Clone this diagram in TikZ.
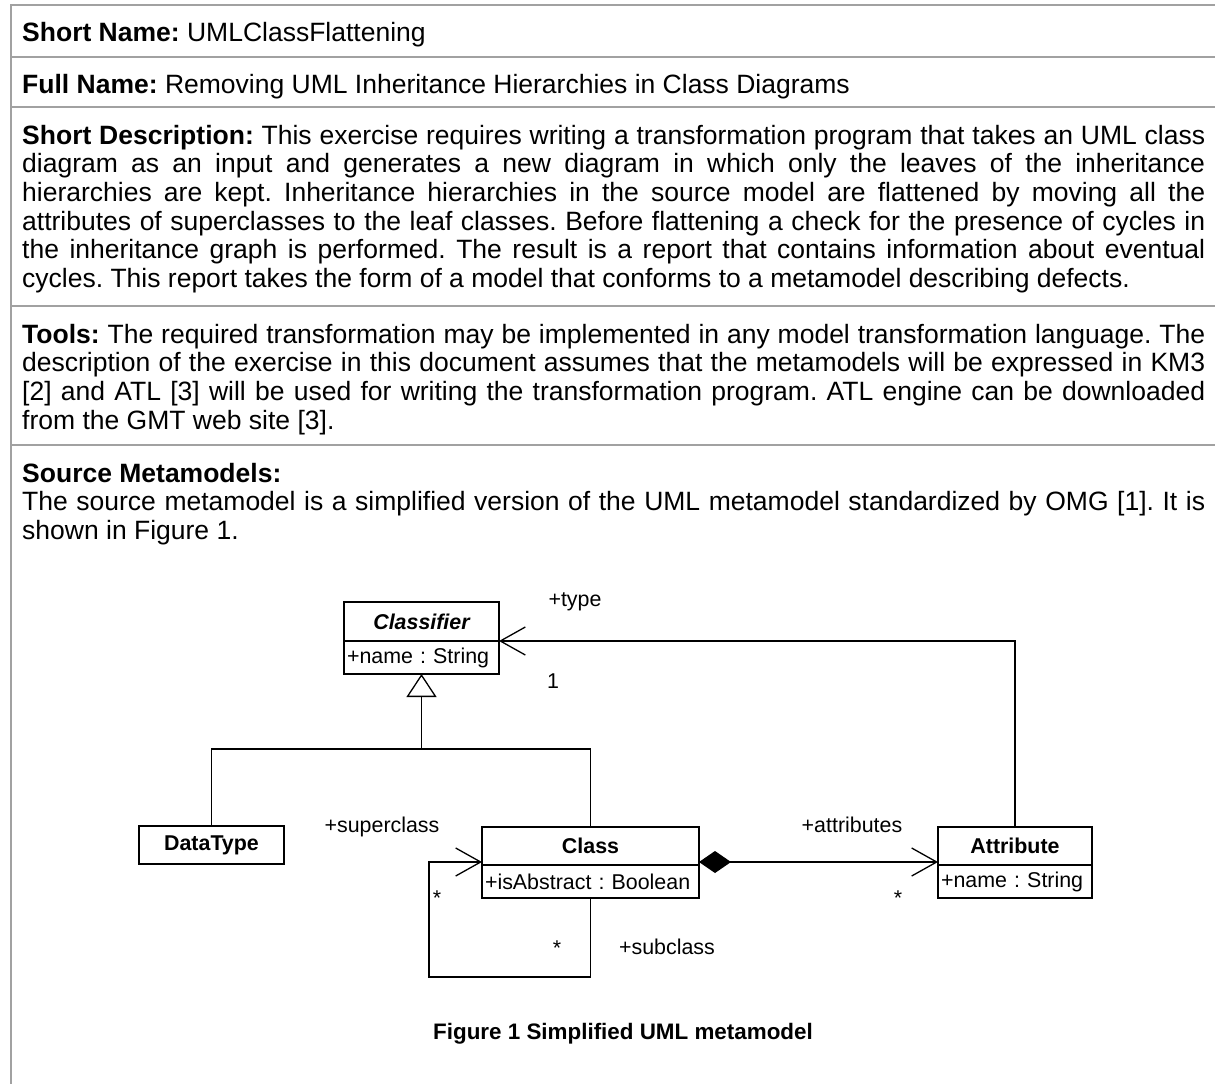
\documentclass[tikz,border=0pt]{standalone}
\usepackage{fontspec}
\setmainfont{Liberation Sans}
\usetikzlibrary{calc,positioning,arrows.meta}
\frenchspacing

\newcommand{\docfont}{\fontsize{26.5}{28.7}\selectfont}
\newcommand{\umlfont}{\fontsize{21.4}{24}\selectfont}
\newcommand{\fillline}[1]{\makebox[1183pt][s]{#1}}

\tikzset{
  rule/.style={draw=black!37, line width=2pt},
  txt/.style={anchor=base west, inner sep=0pt, font=\docfont},
  umlhead/.style={draw, line width=1.7pt, inner sep=0pt, outer sep=0pt,
    minimum height=38pt, font=\umlfont\bfseries},
  umlattr/.style={draw, line width=1.7pt, inner xsep=3pt, inner ysep=0pt,
    outer sep=0pt, minimum height=33pt, text width=#1, align=left, font=\umlfont},
  lbl/.style={anchor=base, inner sep=0pt, font=\umlfont},
  assoc/.style={draw, line width=1.3pt},
  barb/.style={-{Straight Barb[length=25pt, width=28pt]}},
}

\begin{document}
\begin{tikzpicture}[x=1pt, y=-1pt]
    \useasboundingbox (0,0) rectangle (1215,1084);
    \pgfmathsetmacro{\xleft}{22}
    \pgfmathsetmacro{\lskip}{28.7}
    % Draw table rules
    \draw[rule] (10.5,4) -- (10.5,1084);
    \foreach \y in {5,57,107,305.5,445} {
        \draw[rule] (10,\y) -- (1215,\y);
    }

    % Rows of text
    \node[txt] (shortname) at (\xleft,41) {\textbf{Short Name:} UMLClassFlattening};
    \node[txt] (fullname) at (\xleft,93) {\textbf{Full Name:} Removing UML Inheritance Hierarchies in Class Diagrams};
    \node[txt] (desc0) at (\xleft,144) {\fillline{\textbf{Short Description:} This exercise requires writing a transformation program that takes an UML class}};
    \foreach \t [count=\i] in {
        {diagram as an input and generates a new diagram in which only the leaves of the inheritance},
        {hierarchies are kept. Inheritance hierarchies in the source model are flattened by moving all the},
        {attributes of superclasses to the leaf classes. Before flattening a check for the presence of cycles in},
        {the inheritance graph is performed. The result is a report that contains information about eventual}} {
        \node[txt] (desc\i) at (\xleft,144+\i*\lskip) {\fillline{\t}};
    }
    \node[txt] (desc5) at (\xleft,144+5*\lskip) {cycles. This report takes the form of a model that conforms to a metamodel describing defects.};
    \node[txt] (tools0) at (\xleft,343) {\fillline{\textbf{Tools:} The required transformation may be implemented in any model transformation language. The}};
    \node[txt] (tools1) at (\xleft,343+\lskip) {\fillline{description of the exercise in this document assumes that the metamodels will be expressed in KM3}};
    \node[txt] (tools2) at (\xleft,343+2*\lskip) {\fillline{[2] and ATL [3] will be used for writing the transformation program. ATL engine can be downloaded}};
    \node[txt] (tools3) at (\xleft,343+3*\lskip) {from the GMT web site [3].};
    \node[txt] (source0) at (\xleft,482) {\textbf{Source Metamodels:}};
    \node[txt] (source1) at (\xleft,482+\lskip) {\fillline{The source metamodel is a simplified version of the UML metamodel standardized by OMG [1]. It is}};
    \node[txt] (source2) at (\xleft,482+2*\lskip) {shown in Figure 1.};

    % Classes
    \node[umlhead, minimum width=155pt, minimum height=39pt] (classifier) at (421.5,621.5) {\itshape Classifier};
    \node[umlattr=149pt, below=0pt of classifier] (classifierattr) {+name : String};
    \node[umlhead, minimum width=145pt] (datatype) at (211.5,845) {DataType};
    \node[umlhead, minimum width=217pt] (class) at (590.5,846) {Class};
    \node[umlattr=211pt, below=0pt of class] (classattr) {+isAbstract : Boolean};
    \node[umlhead, minimum width=154pt] (attribute) at (1015,846) {Attribute};
    \node[umlattr=148pt, below=0pt of attribute] (attributeattr) {+name : String};

    % Generalization
    \coordinate (inhjoin) at (421.5,749);
    \draw[assoc] (datatype.north) |- (inhjoin) -| (class.north);
    \draw[assoc, -{Triangle[open, length=23pt, width=30pt]}] (inhjoin) -- (classifierattr.south);

    % Associations
    \draw[assoc, barb] (attribute.north) |- (classifier.south east);
    \coordinate (selfloop) at (429,977);
    \draw[assoc, barb] (classattr.south) |- (selfloop) |- ([yshift=3pt]class.south west);
    \draw[assoc, {Diamond[length=32pt, width=22pt]}-{Straight Barb[length=25pt, width=28pt]}]
        ([yshift=3pt]class.south east) -- ([yshift=3pt]attribute.south west);

    % Role names and multiplicities
    \node[lbl] (typelbl) at (575,606) {+type};
    \node[lbl] (typemult) at (553,688) {1};
    \node[lbl] (superlbl) at (382,832) {+superclass};
    \node[lbl] (supermult) at (437,905) {*};
    \node[lbl] (submult) at (557,955) {*};
    \node[lbl] (sublbl) at (667,954) {+subclass};
    \node[lbl] (attrlbl) at (852,832) {+attributes};
    \node[lbl] (attrmult) at (898,905) {*};

    \node[anchor=base, inner sep=0pt, font=\fontsize{22.4}{26}\selectfont\bfseries] (caption) at (623,1039) {Figure 1 Simplified UML metamodel};
\end{tikzpicture}
\end{document}
